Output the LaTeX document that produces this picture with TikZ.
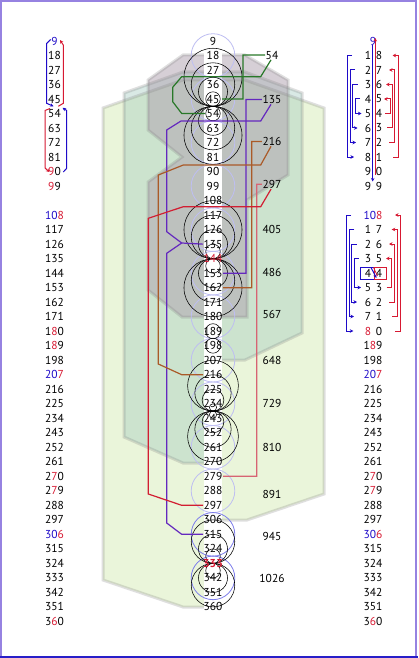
\documentclass[tikz,border=0pt]{standalone}
\usepackage{fontspec}
\setmainfont{PT Sans}
\usetikzlibrary{arrows.meta}
\definecolor{cblue}{RGB}{30,10,200}
\definecolor{cred}{RGB}{215,25,50}
\definecolor{frameL}{RGB}{150,130,225}
\definecolor{frameB}{RGB}{40,30,200}
\definecolor{hexG}{RGB}{234,245,218}
\definecolor{hexB}{RGB}{160,200,190}
\definecolor{hexP}{RGB}{175,160,175}
\definecolor{lav}{RGB}{190,190,242}
\definecolor{lavD}{RGB}{125,125,235}
\definecolor{cG}{RGB}{40,120,40}
\definecolor{cP}{RGB}{100,40,190}
\definecolor{cBr}{RGB}{170,90,40}
\definecolor{cR}{RGB}{210,30,50}
\definecolor{cRl}{RGB}{215,100,115}
\newcommand\blu[1]{{\color{cblue}#1}}
\newcommand\rd[1]{{\color{cred}#1}}
\newcommand\nf{\fontsize{11.5}{12}\selectfont}
\begin{document}
\begin{tikzpicture}[x=1pt,y=-1pt,
  num/.style={inner sep=0.5pt,font=\nf},
  circ/.style={draw=black,line width=0.55pt},
  lavc/.style={draw=lav,line width=0.8pt},
  hexborder/.style={line width=3pt,draw=black!50,draw opacity=0.25},
  conn/.style={line width=1.2pt},
  brk/.style={line width=1pt},
  arrowend/.style={-{Stealth[length=3.5pt,width=3.5pt]}}
]
\useasboundingbox (0,0) rectangle (418,658);
\fill[white] (0,0) rectangle (418,658);

% background shapes
\fill[hexG] (103,108) -- (183,80) -- (245,80) -- (324,108) -- (324,494) -- (247,520) -- (213,520) -- (213,607) -- (183,607) -- (103,580) -- cycle;
\fill[hexB,fill opacity=0.4] (124,93) -- (183,72) -- (245,72) -- (302,93) -- (302,333) -- (245,360) -- (213,360) -- (213,463) -- (183,463) -- (124,437) -- cycle;
\fill[hexP,fill opacity=0.5] (148,80) -- (183,55) -- (245,55) -- (288,80) -- (288,175) -- (247,200) -- (247,317) -- (182,317) -- (148,290) -- (148,182) -- (182,157) -- (148,130) -- cycle;
\draw[hexborder] (103,108) -- (183,80) -- (245,80) -- (324,108) -- (324,494) -- (247,520) -- (213,520) -- (213,607) -- (183,607) -- (103,580) -- cycle;
\draw[hexborder] (124,93) -- (183,72) -- (245,72) -- (302,93) -- (302,333) -- (245,360) -- (213,360) -- (213,463) -- (183,463) -- (124,437) -- cycle;
\draw[hexborder] (148,80) -- (183,55) -- (245,55) -- (288,80) -- (288,175) -- (247,200) -- (247,317) -- (182,317) -- (148,290) -- (148,182) -- (182,157) -- (148,130) -- cycle;

% central strip
\fill[white] (204.3,44) rectangle (222.3,612);

% lavender circles
\foreach \i in {1,4,...,31} { \draw[lavc] (213,{41+14.51*\i}) circle[radius=21.8pt]; }
\foreach \i in {34,37} { \draw[draw=lavD,line width=0.8pt] (213,{41+14.51*\i}) circle[radius=21.8pt]; }

% black tangent circles
\foreach \k in {1,2,3,4} {
  \pgfmathsetmacro\rr{7.255*\k}
  \draw[circ] (213,{106.3-\rr}) circle[radius=\rr pt];
  \draw[circ] (213,{106.3+\rr}) circle[radius=\rr pt];
  \draw[circ] (213,{258.7-\rr}) circle[radius=\rr pt];
  \draw[circ] (213,{258.7+\rr}) circle[radius=\rr pt];
}
\foreach \k in {0.5,1.5,2.5,3.5} {
  \pgfmathsetmacro\rr{7.255*\k}
  \draw[circ] (213,{411.05-\rr}) circle[radius=\rr pt];
  \draw[circ] (213,{411.05+\rr}) circle[radius=\rr pt];
}
\foreach \k in {1,2,3} {
  \pgfmathsetmacro\rr{7.255*\k}
  \draw[circ] (213,{563.4-\rr}) circle[radius=\rr pt];
  \draw[circ] (213,{563.4+\rr}) circle[radius=\rr pt];
}
\draw[circ] (213,331.2) circle[radius=7.5pt];
\draw[circ] (213,345.7) circle[radius=7.5pt];

% middle column
\foreach \i in {0,...,39}{
  \pgfmathtruncatemacro\v{9*(\i+1)}
  \ifnum\v=144 \def\cc{cred}\else\ifnum\v=333 \def\cc{cred}\else\def\cc{black}\fi\fi
  \ifnum\v=333
    \node[num,text=\cc,font=\nf\bfseries] (m\i) at (213,{41+14.51*\i}) {\v};
  \else
    \node[num,text=\cc] (m\i) at (213,{41+14.51*\i}) {\v};
  \fi
}

% sum labels
\node[num] (L54) at (272,55) {54};
\node[num] (L135) at (272,99.5) {135};
\node[num] (L216) at (272,141.5) {216};
\node[num] (L297) at (272,184.3) {297};
\node[num] (L405) at (272,229.3) {405};
\node[num] (L486) at (272,272) {486};
\node[num] (L567) at (272,314.3) {567};
\node[num] (L648) at (272,360.7) {648};
\node[num] (L729) at (272,403.3) {729};
\node[num] (L810) at (272,447.7) {810};
\node[num] (L891) at (272,494.3) {891};
\node[num] (L945) at (272,536.7) {945};
\node[num] (L1026) at (272,578.7) {1026};

% connectors
\draw[conn,cG] (L54.west) -- (243,55) -- (243,99.04) -- ([xshift=9pt]m4.center);
\draw[conn,cG] ([xshift=-1pt]L54.south) -- (260.7,76.7) -- (181.7,76.7) -- (172.7,87.3) -- (172.7,101.7) -- (181.7,113.5) -- ([xshift=-8pt]m5.center);
\draw[conn,cP] (L135.west) -- (246,99.5) -- (246,273.2) -- ([xshift=10pt]m16.center);
\draw[conn,cP] ([xshift=-1pt]L135.south) -- (260.7,121) -- (181,121) -- (166.7,130) -- (166.7,231.7) -- (181.7,243) -- ([xshift=-10pt]m14.center);
\draw[conn,cP] (181.7,243) -- (166.7,253.3) -- (166.7,523) -- (181.7,534.3) -- ([xshift=-10pt]m34.center);
\draw[conn,cBr] (L216.west) -- (251.7,141.5) -- (251.7,287.7) -- ([xshift=10pt]m17.center);
\draw[conn,cBr] ([xshift=-1pt]L216.south) -- (260.7,165) -- (183.3,165) -- (158.3,175) -- (158.3,364) -- (181.7,374.7) -- ([xshift=-10pt]m23.center);
\draw[conn,cRl] (L297.west) -- (256.7,184.3) -- (256.7,476.3) -- ([xshift=10pt]m30.center);
\draw[conn,cR] ([xshift=-1pt]L297.south) -- (260.7,206.7) -- (183.3,206.7) -- (148.3,218.3) -- (148.3,494) -- (181.7,505.3) -- ([xshift=-10pt]m32.center);

% left column
\foreach \t [count=\ri from 0] in {{\blu{9}},18,27,36,45,54,63,72,81,{\rd{9}0},{\rd{9}9}}
  { \node[num] (l\ri) at (54.5,{41+14.5*\ri}) {\t}; }
\foreach \t [count=\ri from 12] in {{\blu{10}\rd{8}},117,126,135,144,153,162,171,{1\rd{8}0},{1\rd{8}9},198,{\blu{20}\rd{7}},216,225,234,243,252,261,{2\rd{7}0},{2\rd{7}9},288,297,{\blu{30}\rd{6}},315,324,333,342,351,{3\rd{6}0}}
  { \node[num] (l\ri) at (54.5,{41+14.5*\ri}) {\t}; }
\draw[brk,cblue,arrowend] (50.7,39.5) -- (46.7,43.5) -- (46.7,103.3) -- (53.5,106.3);
\draw[brk,cred,arrowend] (58.3,106.3) -- (63.3,103.3) -- (63.3,45) -- (60,40);
\draw[brk,cred,arrowend] (50,108.5) -- (45,110.5) -- (45,168) -- (49.5,172);
\draw[brk,cblue,arrowend] (63.3,172) -- (66.7,168.3) -- (66.7,110.5) -- (62.5,107.8);

% right column
\node[num] (r0) at (373,41) {\blu{9}};
\foreach \d in {1,...,8} {
  \pgfmathtruncatemacro\e{9-\d}
  \node[num] (ra\d) at (368,{41+14.5*\d}) {\d};
  \node[num] (rb\d) at (379,{41+14.5*\d}) {\e};
}
\node[num] (ra9) at (368,171.5) {9};
\node[num] (rb9) at (379,171.5) {0};
\node[num] (ra10) at (368,186) {9};
\node[num] (rb10) at (379,186) {9};
\node[num] (r12) at (373,215) {\blu{10}\rd{8}};
\foreach \d in {1,...,7} {
  \pgfmathtruncatemacro\e{8-\d}
  \pgfmathtruncatemacro\rw{12+\d}
  \node[num] (ra\rw) at (368,{41+14.5*\rw}) {\d};
  \node[num] (rb\rw) at (379,{41+14.5*\rw}) {\e};
}
\node[num] (ra20) at (368,331) {\rd{8}};
\node[num] (rb20) at (379,331) {0};
\foreach \t [count=\ri from 21] in {{1\rd{8}9},198,{\blu{20}\rd{7}},216,225,234,243,252,261,{2\rd{7}0},{2\rd{7}9},288,297,{\blu{30}\rd{6}},315,324,333,342,351,{3\rd{6}0}}
  { \node[num] (r\ri) at (373,{41+14.5*\ri}) {\t}; }

% right column brackets, block 1
\draw[brk,cblue,arrowend] (372.7,45) -- (372.7,181.5);
\draw[brk,cred,arrowend] (375.3,175) -- (375.3,38);
\foreach \k/\xb/\tp/\xr/\tq in {1/347/354/398.3/392.5, 2/350/356/394.3/389, 3/352.5/357.5/392/386, 4/355/361.5/390/384} {
  \pgfmathsetmacro\yt{41+14.5*\k}
  \pgfmathsetmacro\yb{41+14.5*(9-\k)}
  \draw[brk,cblue,arrowend] ({\xb+5},\yt) -- (\xb,\yt) -- (\xb,\yb) -- (\tp,\yb);
  \draw[brk,cred,arrowend] ({\xr-5},\yb) -- (\xr,\yb) -- (\xr,\yt) -- (\tq,\yt);
}
% block 2
\foreach \k/\xb/\tp/\xr/\tq in {0/346/353.3/400/395, 1/349.3/354/397/391.7, 2/351.7/357/394/389, 3/354/361/391.7/386} {
  \pgfmathsetmacro\yt{41+14.5*(12+\k)}
  \pgfmathsetmacro\yb{41+14.5*(20-\k)}
  \draw[brk,cblue,arrowend] ({\xb+5},\yt) -- (\xb,\yt) -- (\xb,\yb) -- (\tp,\yb);
  \draw[brk,cred,arrowend] ({\xr-5},\yb) -- (\xr,\yb) -- (\xr,\yt) -- (\tq,\yt);
}
\draw[cblue,line width=0.9pt] (360,267.7) rectangle (374,279.3);
\draw[cred,line width=0.9pt] (374,267.7) rectangle (386.7,279.3);
\draw[brk,cblue,arrowend] (371,267.5) -- (376.5,278);
\draw[line width=0.8pt,cred] (373.5,267.5) -- (377.5,276);

% frame
\draw[frameL,line width=2pt] (1,657) -- (1,1) -- (416,1) -- (416,657);
\draw[frameB,line width=1.5pt] (0,656.8) -- (418,656.8);
\end{tikzpicture}
\end{document}
